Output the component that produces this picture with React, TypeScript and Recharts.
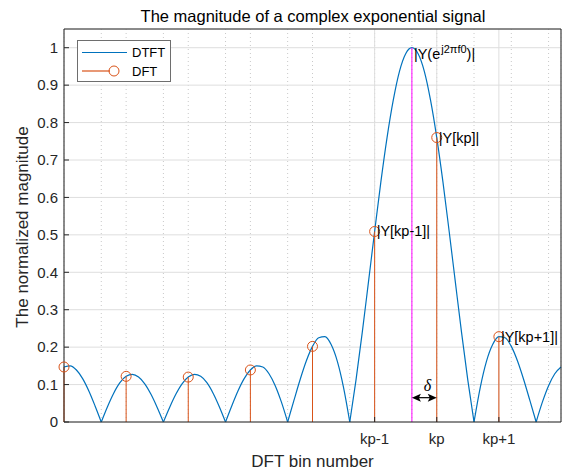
import React from "react";
import {
  ComposedChart,
  Line,
  Scatter,
  XAxis,
  YAxis,
  CartesianGrid,
  ReferenceLine,
  ReferenceDot,
  Legend,
  Label,
} from "recharts";

// frequency axis in DFT bins, kp = 0
const BIN_X = [
  -6, -5.9, -5.8, -5.7, -5.6, -5.5, -5.4, -5.3, -5.2, -5.1,
  -5, -4.9, -4.8, -4.7, -4.6, -4.5, -4.4, -4.3, -4.2, -4.1,
  -4, -3.9, -3.8, -3.7, -3.6, -3.5, -3.4, -3.3, -3.2, -3.1,
  -3, -2.9, -2.8, -2.7, -2.6, -2.5, -2.4, -2.3, -2.2, -2.1,
  -2, -1.9, -1.8, -1.7, -1.6, -1.5, -1.4, -1.3, -1.2, -1.1,
  -1, -0.9, -0.8, -0.7, -0.6, -0.5, -0.4, -0.3, -0.2, -0.1,
  0, 0.1, 0.2, 0.3, 0.4, 0.5, 0.6, 0.7, 0.8, 0.9,
  1, 1.1, 1.2, 1.3, 1.4, 1.5, 1.6, 1.7, 1.8, 1.9,
  2,
];

// |DTFT|, normalized
const DTFT_MAG = [
  0.147, 0.15, 0.139, 0.116, 0.083, 0.043, 0, 0.041, 0.077, 0.105,
  0.122, 0.127, 0.12, 0.102, 0.074, 0.039, 0, 0.039, 0.074, 0.102,
  0.12, 0.127, 0.122, 0.105, 0.077, 0.041, 0, 0.043, 0.083, 0.116,
  0.139, 0.15, 0.147, 0.129, 0.097, 0.053, 0, 0.057, 0.113, 0.163,
  0.202, 0.225, 0.228, 0.207, 0.162, 0.092, 0, 0.112, 0.238, 0.373,
  0.509, 0.641, 0.76, 0.86, 0.937, 0.984, 1, 0.984, 0.937, 0.86,
  0.76, 0.641, 0.509, 0.373, 0.238, 0.112, 0, 0.092, 0.162, 0.207,
  0.228, 0.225, 0.202, 0.163, 0.113, 0.057, 0, 0.053, 0.097, 0.129,
  0.147,
];

const NULL_BINS = [-5.4, -4.4, -3.4, -2.4, -1.4, 0.6, 1.6];

const DFT_BINS = [-6, -5, -4, -3, -2, -1, 0, 1];
const DFT_MAG = [0.147, 0.122, 0.12, 0.139, 0.202, 0.509, 0.76, 0.228];

const F0_BIN = -0.4;
const PEAK_MAG = 1;
const DELTA_Y = 0.065;

const X_TICKS = [-1, 0, 1];
const X_TICK_LABELS = ["kp-1", "kp", "kp+1"];
const X_MINOR = [
  -5.8, -5.6, -5.4, -5.2, -5, -4.8, -4.6, -4.4, -4.2, -4, -3.8, -3.6, -3.4,
  -3.2, -3, -2.8, -2.6, -2.4, -2.2, -2, -1.8, -1.6, -1.4, -1.2, -1, -0.8,
  -0.6, -0.4, -0.2, 0, 0.2, 0.4, 0.6, 0.8, 1, 1.2, 1.4, 1.6, 1.8,
];
const Y_TICKS = [0, 0.1, 0.2, 0.3, 0.4, 0.5, 0.6, 0.7, 0.8, 0.9, 1];

const NOTE_BINS = [-1, 0, 1];
const NOTE_TEXT = ["|Y[kp-1]|", "|Y[kp]|", "|Y[kp+1]|"];

const BLUE = "#0072BD";
const ORANGE = "#D95319";
const MAGENTA = "#FF00FF";
const AXIS = "#262626";
const FONT = '"Liberation Sans", Arial, Helvetica, sans-serif';

// split the curve into alternating lobes so the nulls stay sharp cusps
const curve = BIN_X.map((x, i) => {
  const v = DTFT_MAG[i];
  const lobe = NULL_BINS.filter((n) => n < x - 1e-6).length;
  const atNull = NULL_BINS.some((n) => Math.abs(n - x) < 1e-6);
  const row: { x: number; a: number | null; b: number | null } = { x, a: null, b: null };
  if (atNull || lobe % 2 === 0) row.a = v;
  if (atNull || lobe % 2 === 1) row.b = v;
  return row;
});

const stems = DFT_BINS.map((x, i) => ({ x, y: DFT_MAG[i] }));

const LEGEND_ORDER = ["DTFT", "DFT"];
const LEGEND_COLORS: Record<string, string> = { DTFT: BLUE, DFT: ORANGE };

function LegendBox({ payload }: any) {
  const names = (payload ?? []).map((p: any) => p.value);
  const items = LEGEND_ORDER.filter((n) => names.includes(n));
  return (
    <svg width={94} height={42} style={{ display: "block" }}>
      <rect x={0.5} y={0.5} width={93} height={41} fill="#fff" stroke="#6e6e6e" />
      {items.map((name, i) => {
        const cy = 12.5 + i * 18.5;
        const c = LEGEND_COLORS[name];
        return (
          <g key={name}>
            <line x1={5} x2={name === "DFT" ? 33 : 50} y1={cy} y2={cy} stroke={c} strokeWidth={1.2} />
            {name === "DFT" && <circle cx={37} cy={cy} r={5} fill="none" stroke={c} />}
            <text x={55} y={cy} dominantBaseline="central" fontSize={13} fill="#000" fontFamily={FONT}>
              {name}
            </text>
          </g>
        );
      })}
    </svg>
  );
}

const center = (vb: any) => ({ cx: vb.x + vb.width / 2, cy: vb.y + vb.height / 2 });

const noteLabel = (text: string) => (props: any) => {
  const { cx, cy } = center(props.viewBox);
  return (
    <text x={cx + 2} y={cy} dominantBaseline="central" fontSize={14.5} fill="#000" fontFamily={FONT}>
      {text}
    </text>
  );
};

const peakLabel = (props: any) => {
  const { cx, cy } = center(props.viewBox);
  return (
    <text x={cx + 2} y={cy + 11} fontSize={14.5} fill="#000" fontFamily={FONT}>
      |Y(e
      <tspan dx={1} dy={-6} fontSize={11}>
        j2πf0
      </tspan>
      <tspan dy={6}>)|</tspan>
    </text>
  );
};

const deltaLabel = (props: any) => {
  const { cx, cy } = center(props.viewBox);
  return (
    <text
      x={cx}
      y={cy}
      textAnchor="middle"
      dominantBaseline="central"
      fontSize={16}
      fontStyle="italic"
      fontFamily='"Liberation Serif", "Times New Roman", serif'
      fill="#000"
    >
      δ
    </text>
  );
};

const arrowShape = (p: any) => {
  const x1 = Math.min(p.x1, p.x2);
  const x2 = Math.max(p.x1, p.x2);
  const y = p.y1;
  return (
    <g>
      <line x1={x1 + 6} x2={x2 - 6} y1={y} y2={y} stroke="#000" strokeWidth={1.2} />
      <polygon points={`${x1},${y} ${x1 + 9},${y - 4} ${x1 + 7},${y} ${x1 + 9},${y + 4}`} fill="#000" />
      <polygon points={`${x2},${y} ${x2 - 9},${y - 4} ${x2 - 7},${y} ${x2 - 9},${y + 4}`} fill="#000" />
    </g>
  );
};

const XTick = (p: any) => (
  <text
    x={p.x}
    y={p.y}
    dy="0.71em"
    textAnchor="middle"
    fontSize={15}
    fill={AXIS}
    fontFamily={FONT}
  >
    {X_TICK_LABELS[X_TICKS.indexOf(p.payload.value)]}
  </text>
);

const YTick = (p: any) => (
  <text
    x={p.x}
    y={p.y}
    dy="0.355em"
    textAnchor="end"
    fontSize={15}
    fill={AXIS}
    fontFamily={FONT}
  >
    {p.payload.value}
  </text>
);

export default function App() {
  return (
    <div
      style={{
        position: "absolute",
        left: 0,
        top: 0,
        width: 564,
        height: 470,
        background: "#fff",
        fontFamily: FONT,
      }}
    >
      <div
        style={{
          position: "absolute",
          left: 64,
          width: 498,
          top: 6,
          textAlign: "center",
          fontSize: 16.5,
          lineHeight: "20px",
          color: "#000",
          whiteSpace: "nowrap",
        }}
      >
        The magnitude of a complex exponential signal
      </div>
      <ComposedChart
        width={564}
        height={470}
        data={curve}
        margin={{ top: 28, right: 2, bottom: 0, left: 0 }}
      >
        <XAxis xAxisId="minor" type="number" dataKey="x" domain={[-6, 2]} ticks={X_MINOR} hide />
        <CartesianGrid
          xAxisId="minor"
          horizontal={false}
          stroke="#c9c9c9"
          strokeDasharray="1 3"
        />
        <CartesianGrid stroke="#dedede" />

        <XAxis
          type="number"
          dataKey="x"
          domain={[-6, 2]}
          ticks={X_TICKS}
          interval={0}
          height={48}
          tickSize={-5}
          tickMargin={16}
          tick={XTick}
          tickLine={{ stroke: AXIS }}
          axisLine={{ stroke: AXIS }}
        >
          <Label
            content={(p: any) => (
              <text
                x={p.viewBox.x + p.viewBox.width / 2}
                y={p.viewBox.y + 44.7}
                textAnchor="middle"
                fontSize={17}
                fill={AXIS}
                fontFamily={FONT}
              >
                DFT bin number
              </text>
            )}
          />
        </XAxis>
        <XAxis
          xAxisId="top"
          orientation="top"
          type="number"
          dataKey="x"
          domain={[-6, 2]}
          ticks={X_TICKS}
          interval={0}
          height={1}
          tickSize={-5}
          tick={false}
          tickLine={{ stroke: AXIS }}
          axisLine={{ stroke: AXIS }}
        />
        <YAxis
          type="number"
          domain={[0, 1.05]}
          ticks={Y_TICKS}
          interval={0}
          width={64}
          tickSize={-5}
          tickMargin={11}
          tick={YTick}
          tickLine={{ stroke: AXIS }}
          axisLine={{ stroke: AXIS }}
        >
          <Label
            content={(p: any) => {
              const x = 28.3;
              const y = p.viewBox.y + p.viewBox.height / 2 + 1.5;
              return (
                <text
                  x={x}
                  y={y}
                  transform={`rotate(-90 ${x} ${y})`}
                  textAnchor="middle"
                  fontSize={17}
                  fill={AXIS}
                  fontFamily={FONT}
                >
                  The normalized magnitude
                </text>
              );
            }}
          />
        </YAxis>
        <YAxis
          yAxisId="right"
          orientation="right"
          type="number"
          domain={[0, 1.05]}
          ticks={Y_TICKS}
          interval={0}
          width={1}
          tickSize={-5}
          tick={false}
          tickLine={{ stroke: AXIS }}
          axisLine={{ stroke: AXIS }}
        />

        <Legend
          layout="vertical"
          verticalAlign="middle"
          align="center"
          wrapperStyle={{ left: 77, top: 40, width: 94, height: 42 }}
          content={(props: any) => <LegendBox {...props} />}
        />

        <Line
          dataKey="a"
          name="DTFT"
          type="monotone"
          stroke={BLUE}
          strokeWidth={1.2}
          dot={false}
          activeDot={false}
          connectNulls={false}
          isAnimationActive={false}
        />
        <Line
          dataKey="b"
          name="DTFT lobes"
          legendType="none"
          type="monotone"
          stroke={BLUE}
          strokeWidth={1.2}
          dot={false}
          activeDot={false}
          connectNulls={false}
          isAnimationActive={false}
        />
        {stems.map((s) => (
          <ReferenceLine
            key={s.x}
            segment={[
              { x: s.x, y: 0 },
              { x: s.x, y: s.y },
            ]}
            stroke={ORANGE}
            strokeWidth={1}
          />
        ))}
        <Scatter
          data={stems}
          dataKey="y"
          name="DFT"
          fill="none"
          stroke={ORANGE}
          isAnimationActive={false}
          shape={(p: any) => (
            <circle cx={p.cx} cy={p.cy} r={5} fill="none" stroke={ORANGE} strokeWidth={1} />
          )}
        />

        <ReferenceLine
          segment={[
            { x: F0_BIN, y: 0 },
            { x: F0_BIN, y: PEAK_MAG },
          ]}
          stroke={MAGENTA}
          strokeWidth={1}
        />
        <ReferenceLine
          segment={[
            { x: F0_BIN, y: DELTA_Y },
            { x: 0, y: DELTA_Y },
          ]}
          shape={arrowShape}
        />
        <ReferenceDot x={F0_BIN} y={PEAK_MAG} r={1} fill="none" stroke="none" label={peakLabel} />
        {NOTE_BINS.map((b, i) => (
          <ReferenceDot
            key={b}
            x={b}
            y={DFT_MAG[DFT_BINS.indexOf(b)]}
            r={1}
            fill="none"
            stroke="none"
            label={noteLabel(NOTE_TEXT[i])}
          />
        ))}
        <ReferenceDot
          x={-0.15}
          y={0.097}
          r={1}
          fill="none"
          stroke="none"
          label={deltaLabel}
        />
      </ComposedChart>
    </div>
  );
}
